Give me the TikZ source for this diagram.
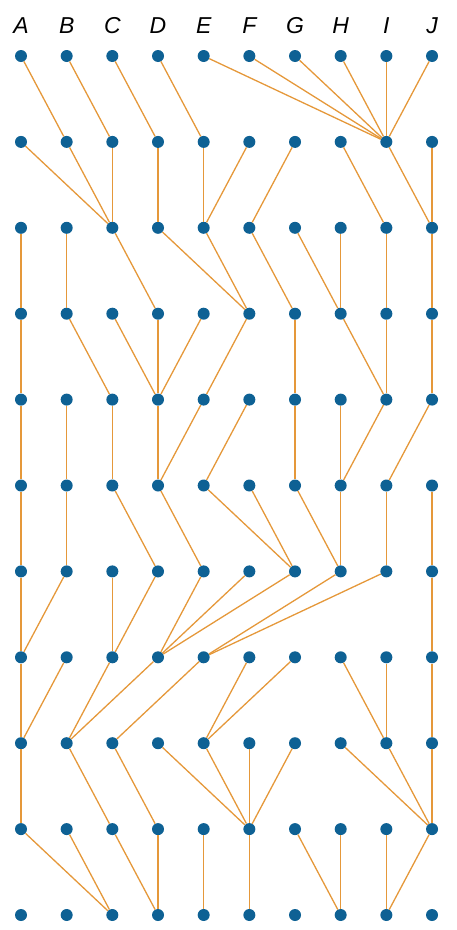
\documentclass[tikz,border=0pt]{standalone}
\usepackage{fontspec}
\newfontfamily\headfont{Liberation Sans}
\definecolor{dotblue}{RGB}{14,97,148}
\definecolor{linkorange}{RGB}{229,152,58}
\tikzset{
  leaf/.style={
    shape = circle,
    fill = dotblue,
    inner sep = 0pt,
    minimum size = 12pt
  },
  link/.style={
    draw = linkorange,
    line width = 1.3pt
  },
  colname/.style={
    anchor = base,
    font = \headfont\itshape\fontsize{23}{23}\selectfont
  }
}
\begin{document}
\begin{tikzpicture}[x=45.67pt, y=-85.9pt]
            \useasboundingbox (-21pt,56pt) rectangle (435pt,-874pt);
            % grid of dots
            \foreach \r in {1,...,11}{
                \foreach \c in {1,...,10}{
                    \node[leaf] (n-\r-\c) at (\c-1,\r-1) {};
                }
            }
            % column names
            \foreach \c/\l in {1/A,2/B,3/C,4/D,5/E,6/F,7/G,8/H,9/I,10/J}{
                \node[colname] (h\c) at ([yshift=23pt]n-1-\c) {\l};
            }
            % each dot goes to one dot in the row below
            \foreach \r/\tl in {1/{2,3,4,5,9,9,9,9,9,9},
                                2/{3,3,3,4,5,5,6,9,10,10},
                                3/{1,2,4,6,6,7,8,8,9,10},
                                4/{1,3,4,4,4,5,7,9,9,10},
                                5/{1,2,3,4,4,5,7,8,8,9},
                                6/{1,2,4,5,7,7,8,8,9,10},
                                7/{1,1,3,3,4,4,4,5,5,10},
                                8/{1,1,2,2,3,5,5,9,9,10},
                                9/{1,3,4,6,6,6,6,10,10,10},
                                10/{3,3,4,4,5,6,8,8,9,9}}{
                \pgfmathtruncatemacro{\rr}{\r+1}
                \foreach \t [count=\c] in \tl{
                    \draw[link] (n-\r-\c) -- (n-\rr-\t);
                }
            }
        \end{tikzpicture}
\end{document}
